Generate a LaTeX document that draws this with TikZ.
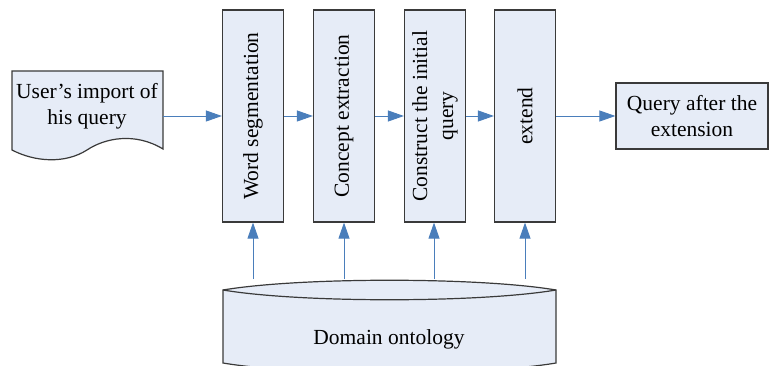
\documentclass[tikz,border=0pt]{standalone}
\usepackage{fontspec}
\setmainfont{Liberation Serif}
\usetikzlibrary{arrows.meta}
\definecolor{boxfill}{HTML}{E6ECF7}
\definecolor{arrowblue}{HTML}{4A7EBB}
\definecolor{edge}{HTML}{3A3A3A}
\tikzset{
  procbox/.style={draw=edge, line width=1.2pt, fill=boxfill, minimum width=61pt, minimum height=212pt, inner sep=0pt},
  flow/.style={draw=arrowblue, line width=0.9pt, -{Triangle[length=16pt,width=11pt]}},
  lbl/.style={font=\fontsize{21.5}{26}\selectfont, align=center},
}
\begin{document}
\begin{tikzpicture}[x=1pt,y=-1pt]
\useasboundingbox (0,0) rectangle (770,366);
% document shape
\draw[draw=edge, line width=1.2pt, fill=boxfill] (12,71) -- (163,71) -- (163,149)
  .. controls (135,132) and (105,138) .. (87,150)
  .. controls (65,164) and (35,162) .. (12,150) -- cycle;
\node[lbl] (user) at (87,106) {User’s import of\\his query};
\coordinate (userR) at (163,116);
% process boxes
\node[procbox] (b1) at (253,116) {};
\node[procbox] (b2) at (344,116) {};
\node[procbox] (b3) at (435,116) {};
\node[procbox] (b4) at (525,116) {};
\node[lbl, rotate=90] at (b1) {Word segmentation};
\node[lbl, rotate=90] at (b2) {Concept extraction};
\node[lbl, rotate=90] at (b3) {Construct the initial\\query};
\node[lbl, rotate=90] at (b4) {extend};
% output box
\node[draw=edge, line width=1.2pt, fill=boxfill, minimum width=152pt, minimum height=66pt, inner sep=0pt, lbl] (out) at (692,116) {Query after the\\extension};
% cylinder
\draw[draw=edge, line width=1.2pt, fill=boxfill] (223,290) .. controls (300,277) and (479,277) .. (556,290)
  -- (556,363) .. controls (479,376) and (300,376) .. (223,363) -- cycle;
\draw[draw=edge, line width=1.2pt] (223,290) .. controls (300,303) and (479,303) .. (556,290);
\node[lbl] (dom) at (389,339) {Domain ontology};
% arrows
\draw[flow] (userR) -- (b1.west |- userR);
\draw[flow] (b1.east |- userR) -- (b2.west |- userR);
\draw[flow] (b2.east |- userR) -- (b3.west |- userR);
\draw[flow] (b3.east |- userR) -- (b4.west |- userR);
\draw[flow] (b4.east |- userR) -- (out.west |- userR);
\coordinate (c1) at (253,279);
\coordinate (c2) at (344,279);
\coordinate (c3) at (434,279);
\coordinate (c4) at (525,279);
\draw[flow] (c1) -- (c1 |- b1.south);
\draw[flow] (c2) -- (c2 |- b2.south);
\draw[flow] (c3) -- (c3 |- b3.south);
\draw[flow] (c4) -- (c4 |- b4.south);
\end{tikzpicture}
\end{document}
